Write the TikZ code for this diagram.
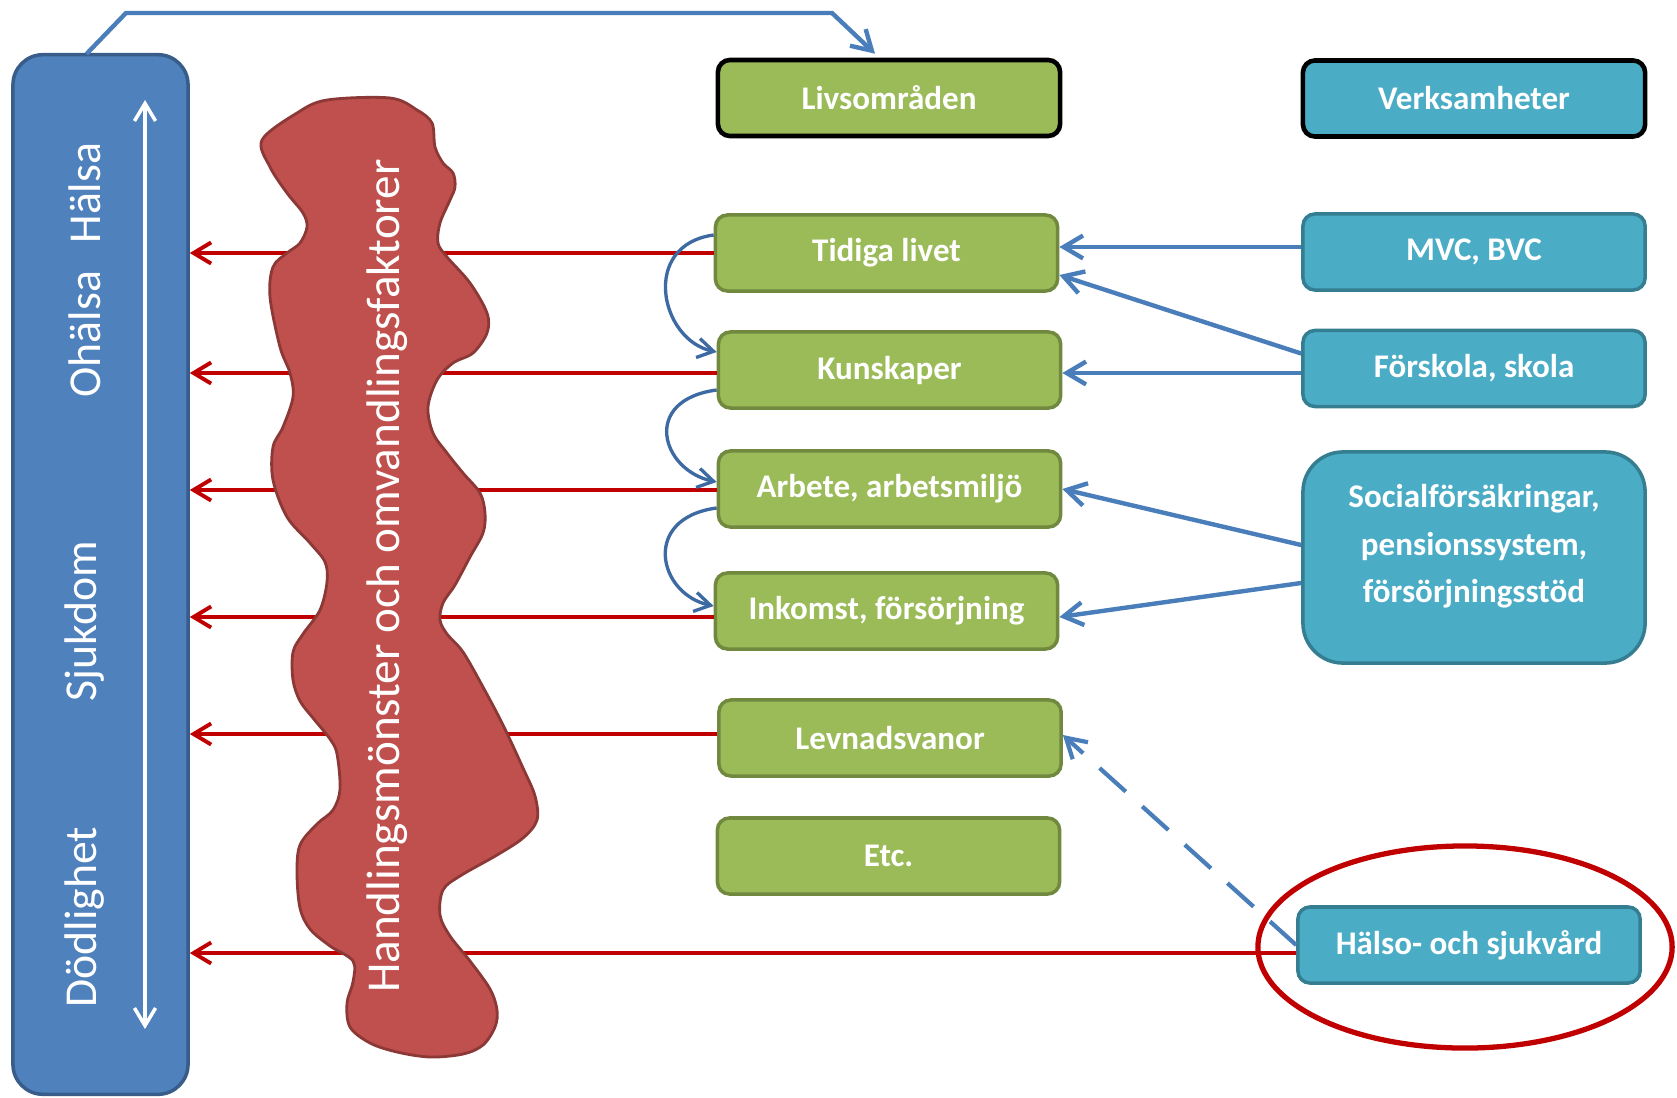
\documentclass[tikz,border=0pt]{standalone}
\usepackage{fontspec}
\setmainfont{Carlito}
\usetikzlibrary{arrows.meta,calc,shapes.geometric}
\definecolor{gfill}{HTML}{9BBB59}
\definecolor{gline}{HTML}{71893F}
\definecolor{bfill}{HTML}{4BACC6}
\definecolor{bline}{HTML}{357D91}
\definecolor{lfill}{HTML}{4F81BD}
\definecolor{lline}{HTML}{385D8A}
\definecolor{rfill}{HTML}{C0504D}
\definecolor{rline}{HTML}{8C3836}
\definecolor{darkred}{HTML}{C00000}
\definecolor{conn}{HTML}{4A7EBB}
\definecolor{curv}{HTML}{3E6AA3}
\begin{document}
\begin{tikzpicture}[x=0.01cm,y=-0.01cm,
 box/.style={rounded corners=0.12cm, minimum width=3.42cm, minimum height=0.76cm, inner sep=0pt, text=white, font=\fontsize{9.4}{11}\selectfont\bfseries, line width=1pt},
 gbox/.style={box, fill=gfill, draw=gline},
 bbox/.style={box, fill=bfill, draw=bline},
 headbox/.style={draw=black, line width=1.3pt},
 redarrow/.style={draw=darkred, line width=1.1pt, -{Straight Barb[length=5pt,width=6pt]}},
 bluearrow/.style={draw=conn, line width=1.25pt, -{Straight Barb[length=5.5pt,width=6.5pt]}},
 curvarrow/.style={draw=curv, line width=0.95pt, -{Straight Barb[length=4.5pt,width=5.5pt]}},
 sidetext/.style={rotate=90, text=white, font=\fontsize{13}{15}\selectfont, inner sep=0pt},
]
\useasboundingbox (0,0) rectangle (1677,1097);

% left column
\node[draw=lline, fill=lfill, line width=1pt, rounded corners=0.3cm, minimum width=1.75cm, minimum height=10.39cm, inner sep=0pt] (L) at (100.5,574.5) {};
\coordinate (wtop) at (145,100);
\coordinate (wbot) at (145,1029);
\draw[white, line width=1pt, {Straight Barb[length=5pt,width=6pt]}-{Straight Barb[length=5pt,width=6pt]}] (wbot) -- (wtop);
\node[sidetext] (t1) at (85,270) {Ohälsa\hspace{0.6em}Hälsa};
\node[sidetext] (t2) at (85,621) {Sjukdom};
\node[sidetext] (t3) at (85,917) {Dödlighet};

% boxes
\node[gbox, headbox] (liv) at (889,98) {Livsområden};
\node[bbox, headbox] (ver) at (1474,98.5) {Verksamheter};
\node[gbox] (tid) at (886.5,253) {Tidiga livet};
\node[gbox] (kun) at (889.5,370) {Kunskaper};
\node[gbox] (arb) at (889.5,489) {Arbete, arbetsmiljö};
\node[gbox] (ink) at (886.5,611) {Inkomst, försörjning};
\node[gbox] (lev) at (890,738) {Levnadsvanor};
\node[gbox] (etc) at (888.5,856) {Etc.};
\node[bbox] (mvc) at (1474,252) {MVC, BVC};
\node[bbox] (fsk) at (1474,368.5) {Förskola, skola};
\node[bbox, rounded corners=0.4cm, minimum height=2.11cm] (soc) at (1474,557.5)
 {\fontsize{9.4}{13.4}\selectfont\raisebox{0.04cm}[0pt][0pt]{\begin{tabular}{@{}c@{}}Socialförsäkringar,\\pensionssystem,\\försörjningsstöd\end{tabular}}};
\node[bbox] (hal) at (1469,945) {Hälso- och sjukvård};

% red arrows to the left column
\draw[redarrow] (tid.west) -- (tid.west -| L.east);
\draw[redarrow] ($(kun.west)+(0,3)$) -- ($(kun.west -| L.east)+(0,3)$);
\draw[redarrow] ($(arb.west)+(0,1)$) -- ($(arb.west -| L.east)+(0,1)$);
\draw[redarrow] ($(ink.west)+(0,6)$) -- ($(ink.west -| L.east)+(0,6)$);
\draw[redarrow] ($(lev.west)+(0,-4)$) -- ($(lev.west -| L.east)+(0,-4)$);
\draw[redarrow] ($(hal.west)+(0,8)$) -- ($(hal.west -| L.east)+(0,8)$);

% blob
\draw[fill=rfill, draw=rline, line width=0.8pt] plot[smooth cycle, tension=0.55] coordinates {
(262,140) (297,113) (327,100) (390,98) (417,110) (432,123) (435,147) (443,163) (453,173) (455,187) (450,200) (440,223) (438,243) (447,257) (470,283) (487,313) (487,333) (473,353) (453,363) (437,380) (428,407) (433,433) (447,453) (463,473) (480,493) (485,513) (483,533) (470,557) (455,585) (443,603) (440,620) (447,634) (463,652) (483,687) (503,725) (523,768) (535,796) (537,820) (523,838) (497,855) (460,876) (443,890) (440,915) (450,936) (470,961) (490,989) (497,1010) (495,1027) (483,1045) (463,1054) (430,1057) (397,1052) (370,1043) (350,1027) (347,1003) (353,982) (353,961) (330,946) (310,929) (300,908) (297,873) (300,845) (317,824) (333,810) (340,789) (337,754) (330,739) (313,718) (300,701) (293,680) (293,652) (303,634) (320,610) (327,582) (325,562) (310,543) (287,517) (273,480) (273,447) (283,427) (293,397) (290,373) (280,347) (270,297) (273,267) (287,253) (300,243) (307,227) (303,213) (287,193) (270,167)};
\node[rotate=90, text=white, font=\fontsize{13.4}{15}\selectfont, inner sep=0pt] (blobtext) at (387,576) {Handlingsmönster och omvandlingsfaktorer};

% top connector
\draw[bluearrow] ($(L.north)+(-14,1)$) -- (126,13) -- (832,13) -- ($(liv.north)+(-14,-4)$);

% curved arrows
\draw[curvarrow] ($(tid.west)+(0,-18)$) .. controls (640,245) and (660,340) .. ($(kun.west)+(0,-18)$);
\draw[curvarrow] ($(kun.west)+(0,20)$) .. controls (641,400) and (661,470) .. ($(arb.west)+(0,-7)$);
\draw[curvarrow] ($(arb.west)+(0,19)$) .. controls (641,518) and (658,594) .. ($(ink.west)+(0,-5)$);

% blue arrows from activities
\draw[bluearrow] ($(mvc.west)+(0,-5)$) -- ($(tid.east)+(0,-6)$);
\draw[bluearrow] ($(fsk.west)+(0,-15)$) -- ($(tid.east)+(0,22)$);
\draw[bluearrow] ($(fsk.west)+(0,4.5)$) -- ($(kun.east)+(0,3)$);
\draw[bluearrow] ($(soc.west)+(0,-12.5)$) -- (arb.east);
\draw[bluearrow] ($(soc.west)+(0,25.5)$) -- ($(ink.east)+(0,6)$);
\draw[bluearrow, line width=1.2pt, dash pattern=on 10pt off 6.3pt] (hal.west) -- ($(lev.east)+(0,-3)$);

% highlight ring
\node[draw=darkred, line width=1.5pt, ellipse, minimum width=4.14cm, minimum height=2.02cm, inner sep=0pt] (ring) at (1465,947) {};
\end{tikzpicture}
\end{document}
